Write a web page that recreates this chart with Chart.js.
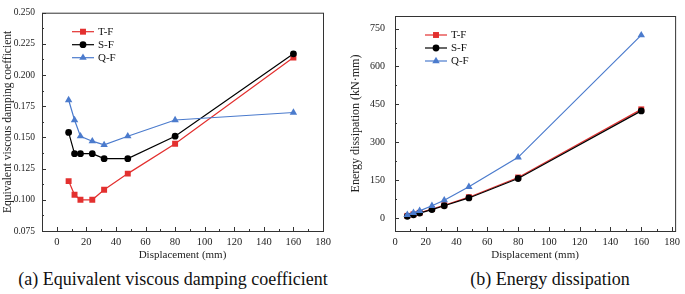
<!DOCTYPE html>
<html>
<head>
<meta charset="utf-8">
<script src="https://cdn.jsdelivr.net/npm/chart.js@4.4.0/dist/chart.umd.min.js"></script>
<style>
  body { margin: 0; background: #fff; width: 685px; height: 294px; overflow: hidden; position: relative; font-family: "Liberation Serif", serif; }
  .box { position: absolute; top: 0; width: 342px; height: 264px; }
  .cap { position: absolute; top: 269px; font-size: 18px; color: #111; text-align: center; width: 342px; white-space: nowrap; }
</style>
</head>
<body>
<div class="box" style="left:0"><canvas id="damping"></canvas></div>
<div class="box" style="left:343px"><canvas id="energy"></canvas></div>
<div class="cap" style="left:2px">(a) Equivalent viscous damping coefficient</div>
<div class="cap" style="left:379px">(b) Energy dissipation</div>
<script>
// displacement steps (mm)
const displacement = [8, 12, 16, 24, 32, 48, 80, 160];

// equivalent viscous damping coefficient
const dampTF = [0.115, 0.104, 0.100, 0.100, 0.108, 0.121, 0.145, 0.214];
const dampSF = [0.154, 0.137, 0.137, 0.137, 0.133, 0.133, 0.151, 0.217];
const dampQF = [0.180, 0.164, 0.151, 0.147, 0.144, 0.151, 0.164, 0.170];

// energy dissipation (kN·mm)
const energyTF = [8, 14, 20, 35, 50, 82, 160, 430];
const energySF = [6, 12, 19, 33, 48, 79, 156, 424];
const energyQF = [12, 20, 28, 48, 70, 123, 240, 724];

// tick labels
const xTicks = [0, 20, 40, 60, 80, 100, 120, 140, 160, 180];
const dampTicks = [0.075, 0.100, 0.125, 0.150, 0.175, 0.200, 0.225, 0.250];
const energyTicks = [0, 150, 300, 450, 600, 750];

const RED = '#e3302f', BLACK = '#000000', BLUE = '#4b7bcd';
const FONT = '"Liberation Serif", "Times New Roman", serif';

function toPoints(ys) {
  return displacement.map((x, i) => ({ x: x, y: ys[i] }));
}

function makeSets(tf, sf, qf) {
  return [
    { label: 'T-F', data: toPoints(tf), borderColor: RED, backgroundColor: RED, pointStyle: 'rect', pointRadius: 4.2, order: 3 },
    { label: 'S-F', data: toPoints(sf), borderColor: BLACK, backgroundColor: BLACK, pointStyle: 'circle', pointRadius: 3.4, order: 2 },
    { label: 'Q-F', data: toPoints(qf), borderColor: BLUE, backgroundColor: BLUE, pointStyle: 'triangle', pointRadius: 4.3, order: 1 }
  ].map(d => Object.assign(d, { borderWidth: 1.2, pointBorderWidth: 0, fill: false, tension: 0 }));
}

// frame, inward ticks (major + minor) and a line+marker legend
const framePlugin = {
  id: 'frame',
  afterDatasetsDraw(chart) {
    const ctx = chart.ctx, a = chart.chartArea;
    ctx.save();
    ctx.strokeStyle = '#333';
    ctx.lineWidth = 1;
    ctx.strokeRect(a.left + 0.5, a.top + 0.5, a.right - a.left, a.bottom - a.top);
    const xs = chart.scales.x, ys = chart.scales.y;
    const xt = xs.ticks.map(t => t.value), yt = ys.ticks.map(t => t.value);
    ctx.beginPath();
    xt.forEach((v, i) => {
      const p = Math.round(xs.getPixelForValue(v)) + 0.5;
      ctx.moveTo(p, a.bottom); ctx.lineTo(p, a.bottom - 4);
      if (i < xt.length - 1) {
        const m = Math.round(xs.getPixelForValue((v + xt[i + 1]) / 2)) + 0.5;
        ctx.moveTo(m, a.bottom); ctx.lineTo(m, a.bottom - 2);
      }
    });
    yt.forEach((v, i) => {
      const p = Math.round(ys.getPixelForValue(v)) + 0.5;
      ctx.moveTo(a.left, p); ctx.lineTo(a.left + 4, p);
      if (i < yt.length - 1) {
        const m = Math.round(ys.getPixelForValue((v + yt[i + 1]) / 2)) + 0.5;
        ctx.moveTo(a.left, m); ctx.lineTo(a.left + 2, m);
      }
    });
    ctx.stroke();

    // legend
    chart.data.datasets.forEach((d, i) => {
      const x0 = a.left + 30, y = a.top + 19 + i * 13;
      ctx.strokeStyle = d.borderColor;
      ctx.lineWidth = 1.2;
      ctx.beginPath(); ctx.moveTo(x0, y); ctx.lineTo(x0 + 22, y); ctx.stroke();
      ctx.fillStyle = d.backgroundColor;
      Chart.helpers.drawPoint(ctx, { pointStyle: d.pointStyle, radius: d.pointRadius, borderWidth: 0, rotation: 0 }, x0 + 11, y);
      ctx.fillStyle = '#111';
      ctx.font = '11px ' + FONT;
      ctx.textBaseline = 'middle';
      ctx.fillText(d.label, x0 + 26, y);
    });
    ctx.restore();
  }
};

function makeChart(id, sets, cfg) {
  return new Chart(document.getElementById(id), {
    type: 'line',
    data: { datasets: sets },
    plugins: [framePlugin],
    options: {
      responsive: true,
      maintainAspectRatio: false,
      animation: false,
      layout: { padding: { top: 5, right: cfg.padRight, left: 0, bottom: 0 } },
      plugins: { legend: { display: false }, tooltip: { enabled: false } },
      scales: {
        x: {
          type: 'linear',
          min: cfg.xMin, max: cfg.xMax,
          grid: { display: false, drawTicks: false },
          border: { display: false },
          afterBuildTicks: s => { s.ticks = xTicks.map(v => ({ value: v })); },
          afterFit: s => { s.height = 33; },
          ticks: { padding: 5, font: { family: FONT, size: 10.5 }, color: '#222', maxRotation: 0 },
          title: { display: true, text: 'Displacement (mm)', font: { family: FONT, size: 11 }, color: '#222', padding: { top: 0, bottom: 2 } }
        },
        y: {
          min: cfg.yMin, max: cfg.yMax,
          grid: { display: false, drawTicks: false },
          border: { display: false },
          afterBuildTicks: s => { s.ticks = cfg.yTicks.map(v => ({ value: v })); },
          afterFit: s => { s.width = cfg.yWidth; },
          ticks: { padding: cfg.yPad, font: { family: FONT, size: cfg.yTickSize }, color: '#222', callback: cfg.fmt },
          title: { display: true, text: cfg.yTitle, font: { family: FONT, size: cfg.yTitleSize }, color: '#222', padding: { top: cfg.yTitlePad, bottom: 0 } }
        }
      }
    }
  });
}

function drawAll() {
  makeChart('damping', makeSets(dampTF, dampSF, dampQF), {
    xMin: -10, xMax: 180, yMin: 0.075, yMax: 0.25, yTicks: dampTicks,
    yWidth: 42, yPad: 7, yTickSize: 9.5, padRight: 19, fmt: v => v.toFixed(3),
    yTitle: 'Equivalent viscous damping coefficient', yTitleSize: 11.5, yTitlePad: 1
  });

  makeChart('energy', makeSets(energyTF, energySF, energyQF), {
    xMin: 0, xMax: 182, yMin: -52, yMax: 800, yTicks: energyTicks,
    yWidth: 52, yPad: 10, yTickSize: 10, padRight: 8, fmt: v => String(v),
    yTitle: 'Energy dissipation (kN\u00b7mm)', yTitleSize: 12, yTitlePad: 6
  });
}

Promise.all([
  document.fonts.load('11px "Liberation Serif"'),
  document.fonts.load('18px "Liberation Serif"')
]).then(drawAll, drawAll);
</script>
</body>
</html>
